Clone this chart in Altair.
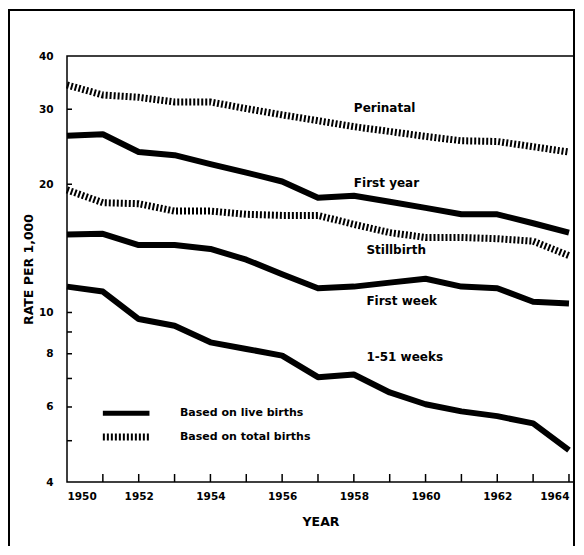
import altair as alt
import pandas as pd

years = list(range(1950, 1965))
perinatal = [34.2, 32.4, 32.0, 31.2, 31.2, 30.1, 29.1, 28.2, 27.3, 26.6, 25.9, 25.3, 25.2, 24.5, 23.8]
first_year = [26.0, 26.2, 23.8, 23.4, 22.3, 21.3, 20.3, 18.6, 18.8, 18.2, 17.6, 17.0, 17.0, 16.2, 15.4]
stillbirth = [19.4, 18.1, 18.0, 17.3, 17.3, 17.0, 16.9, 16.9, 16.1, 15.4, 15.0, 15.0, 14.9, 14.7, 13.6]
first_week = [15.25, 15.3, 14.4, 14.4, 14.1, 13.3, 12.3, 11.4, 11.5, 11.75, 12.0, 11.5, 11.4, 10.6, 10.5]
weeks_1_51 = [11.5, 11.2, 9.65, 9.31, 8.51, 8.21, 7.92, 7.05, 7.15, 6.49, 6.09, 5.86, 5.71, 5.49, 4.75]

label_text = ["Perinatal", "First year", "Stillbirth", "First week", "1-51 weeks"]
label_year = [1958.0, 1958.0, 1958.35, 1958.35, 1958.35]
label_rate = [30.2, 20.1, 14.0, 10.65, 7.84]

legend_text = ["Based on live births", "Based on total births"]
legend_rate = [5.80, 5.10]
legend_seg_years = [1951.0, 1952.3]
legend_text_year = 1953.15

y_tick_values = [4, 6, 8, 10, 20, 30, 40]
y_minor_ticks = [5, 6, 7, 8, 9, 10, 20, 30]
x_label_values = list(range(1950, 1965, 2))
x_tick_values = list(range(1951, 1965))

FONT = "DejaVu Sans"
W, H = 507, 426

live = pd.DataFrame(
    [{"year": y, "rate": v, "series": "First year"} for y, v in zip(years, first_year)]
    + [{"year": y, "rate": v, "series": "First week"} for y, v in zip(years, first_week)]
    + [{"year": y, "rate": v, "series": "1-51 weeks"} for y, v in zip(years, weeks_1_51)]
)
total = pd.DataFrame(
    [{"year": y, "rate": v, "series": "Perinatal"} for y, v in zip(years, perinatal)]
    + [{"year": y, "rate": v, "series": "Stillbirth"} for y, v in zip(years, stillbirth)]
)
labels = pd.DataFrame({"year": label_year, "rate": label_rate, "text": label_text})
leg_live = pd.DataFrame({"year": legend_seg_years, "rate": [legend_rate[0]] * 2})
leg_total = pd.DataFrame({"year": legend_seg_years, "rate": [legend_rate[1]] * 2})
leg_text = pd.DataFrame({"year": [legend_text_year] * 2, "rate": legend_rate, "text": legend_text})
yt = pd.DataFrame({"rate": y_minor_ticks})
xt = pd.DataFrame({"year": x_tick_values})

xscale = alt.Scale(domain=[1950, 1964.14], nice=False, zero=False)
yscale = alt.Scale(type="log", domain=[4, 40], nice=False)

X = alt.X("year:Q", scale=xscale,
          axis=alt.Axis(values=x_label_values, format="d", ticks=False, domain=False,
                        grid=False, labelPadding=9, labelFlush=10,
                        title="YEAR", titlePadding=14, titleFontSize=12.5))
Y = alt.Y("rate:Q", scale=yscale,
          axis=alt.Axis(values=y_tick_values, format="d", ticks=False, domain=False,
                        grid=False, labelPadding=14, title="RATE PER 1,000",
                        titlePadding=3, titleFontSize=12.5))

solid = alt.Chart(live).mark_line(color="black", strokeWidth=6, strokeJoin="round").encode(
    x=X, y=Y, detail="series:N")
hatched = alt.Chart(total).mark_line(color="black", strokeWidth=7, strokeDash=[2, 2],
                                     strokeCap="butt").encode(x=X, y=Y, detail="series:N")
txt = alt.Chart(labels).mark_text(align="left", baseline="middle", font=FONT,
                                  fontWeight="bold", fontSize=12, color="black").encode(
    x=X, y=Y, text="text:N")
lg1 = alt.Chart(leg_live).mark_line(color="black", strokeWidth=5).encode(x=X, y=Y)
lg2 = alt.Chart(leg_total).mark_line(color="black", strokeWidth=7, strokeDash=[2, 2],
                                     strokeCap="butt").encode(x=X, y=Y)
lgt = alt.Chart(leg_text).mark_text(align="left", baseline="middle", font=FONT,
                                    fontWeight="bold", fontSize=11, color="black").encode(
    x=X, y=Y, text="text:N")
yticks = alt.Chart(yt).mark_rule(color="black", strokeWidth=1.5).encode(
    y=Y, x=alt.value(0), x2=alt.value(5))
xticks = alt.Chart(xt).mark_rule(color="black", strokeWidth=1.5).encode(
    x=X, y=alt.value(H - 8), y2=alt.value(H))
frame = alt.Chart(pd.DataFrame({"a": [0]})).mark_rect(
    fillOpacity=0, stroke="black", strokeWidth=2).encode(
    x=alt.value(-58), x2=alt.value(W), y=alt.value(-46), y2=alt.value(560))

chart = alt.layer(frame, xticks, yticks, hatched, solid, txt, lg1, lg2, lgt).properties(
    width=W, height=H,
    autosize=alt.AutoSizeParams(type="none"),
    padding={"left": 59, "top": 48, "right": 2, "bottom": 64},
    background="white",
).configure_view(stroke="black", strokeWidth=1.5).configure_axis(
    labelFont=FONT, labelFontWeight="bold", labelFontSize=10.5, labelColor="black",
    titleFont=FONT, titleFontWeight="bold", titleColor="black",
)

chart.save("out.html", embed_options={"renderer": "svg", "actions": False})
